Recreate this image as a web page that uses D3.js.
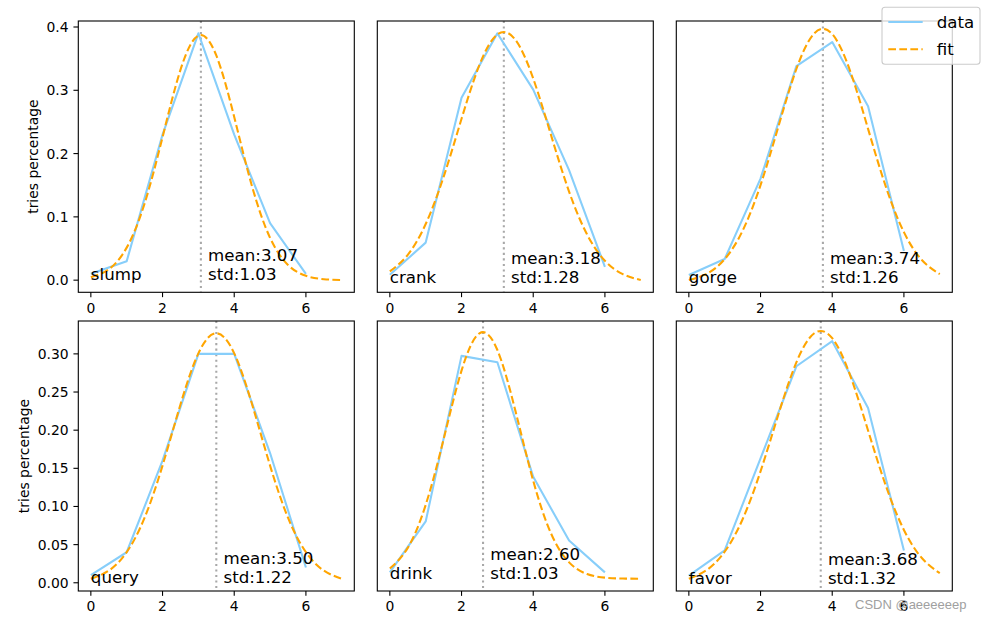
<!DOCTYPE html>
<html><head><meta charset="utf-8">
<script src="https://cdn.jsdelivr.net/npm/d3@7"></script>
<style>body{margin:0;background:#fff} svg{display:block}</style>
</head><body><svg id="c" width="985" height="621"></svg>
<script>
const categories=[0,1,2,3,4,5,6];
const words=["slump","crank","gorge","query","drink","favor"];
const means=[3.07,3.18,3.74,3.50,2.60,3.68];
const stds=[1.03,1.28,1.26,1.22,1.03,1.32];
const slumpData=[0.01,0.03,0.23,0.39,0.23,0.09,0.01];
const crankData=[0.01,0.05,0.23,0.31,0.24,0.14,0.02];
const gorgeData=[0.01,0.03,0.13,0.27,0.30,0.22,0.04];
const queryData=[0.01,0.04,0.16,0.30,0.30,0.17,0.02];
const drinkData=[0.01,0.09,0.35,0.34,0.16,0.06,0.01];
const favorData=[0.01,0.04,0.15,0.26,0.29,0.21,0.04];
const fitX=[0,0.5,1,1.5,2,2.5,3,3.5,4,4.5,5,5.5,6,6.5,7];
const slumpFit=[0.0046,0.0172,0.0514,0.1212,0.2258,0.3323,0.3864,0.3550,0.2577,0.1477,0.0669,0.0240,0.0068,0.0015,0.0003];
const crankFit=[0.0142,0.0348,0.0731,0.1317,0.2038,0.2707,0.3086,0.3021,0.2539,0.1831,0.1134,0.0603,0.0275,0.0108,0.0036];
const gorgeFit=[0.0039,0.0116,0.0298,0.0652,0.1220,0.1951,0.2665,0.3109,0.3100,0.2640,0.1920,0.1194,0.0634,0.0287,0.0111];
const queryFit=[0.0053,0.0159,0.0401,0.0853,0.1536,0.2337,0.3007,0.3270,0.3007,0.2337,0.1536,0.0853,0.0401,0.0159,0.0053];
const drinkFit=[0.0160,0.0485,0.1159,0.2190,0.3269,0.3855,0.3592,0.2644,0.1538,0.0707,0.0257,0.0074,0.0017,0.0003,0.0000];
const favorFit=[0.0062,0.0166,0.0385,0.0773,0.1345,0.2027,0.2647,0.2994,0.2935,0.2492,0.1833,0.1168,0.0645,0.0309,0.0128];
const xTicks=[0,2,4,6];
const yTicksTop=[0,0.1,0.2,0.3,0.4];
const yTicksBottom=[0,0.05,0.10,0.15,0.20,0.25,0.30];
const yLabel="tries percentage";
const legendLabels=["data","fit"];
const watermark="CSDN @aeeeeeep";

const dataSeries=[slumpData,crankData,gorgeData,queryData,drinkData,favorData];
const fitSeries=[slumpFit,crankFit,gorgeFit,queryFit,drinkFit,favorFit];

const svg=d3.select("#c");
const FONT="DejaVu Sans, sans-serif";
const lefts=[78.3,377.3,676.3], tops=[21,321], W=276, Hs=[271.3,270];
const dataColor="#87CEFA", fitColor="#FFA500";
const TL=4.86, LW=2.08, SW=1.1, DASH="7.7,3.33", DOT="2.08,3.44";

function pad(ext){const r=ext[1]-ext[0];return [ext[0]-0.05*r, ext[1]+0.05*r];}

for(let i=0;i<6;i++){
  const row=Math.floor(i/3), col=i%3;
  const L=lefts[col], T=tops[row], H=Hs[row];
  const x=d3.scaleLinear().domain(pad(d3.extent(fitX.concat(categories)))).range([L,L+W]);
  const yExt=d3.extent(dataSeries[i].concat(fitSeries[i]));
  const y=d3.scaleLinear().domain(pad(yExt)).range([T+H,T]);
  const g=svg.append("g");

  g.append("line").attr("x1",x(means[i])).attr("x2",x(means[i])).attr("y1",T).attr("y2",T+H)
    .attr("stroke","#a8a8a8").attr("stroke-width",LW).attr("stroke-dasharray",DOT);

  g.append("path").datum(categories.map((c,k)=>[c,dataSeries[i][k]]))
    .attr("d",d3.line().x(d=>x(d[0])).y(d=>y(d[1])))
    .attr("fill","none").attr("stroke",dataColor).attr("stroke-width",LW).attr("stroke-linejoin","round");
  g.append("path").datum(fitX.map((c,k)=>[c,fitSeries[i][k]]))
    .attr("d",d3.line().curve(d3.curveNatural).x(d=>x(d[0])).y(d=>y(d[1])))
    .attr("fill","none").attr("stroke",fitColor).attr("stroke-width",LW).attr("stroke-dasharray",DASH);

  g.append("text").attr("x",x(0)).attr("y",y(0)).text(words[i])
    .attr("font-family",FONT).attr("font-size","16.67px").attr("fill","#000");
  const t=g.append("text").attr("font-family",FONT).attr("font-size","16.67px").attr("fill","#000");
  t.append("tspan").attr("x",x(means[i]+0.2)).attr("y",y(0)-19.2).text("mean:"+means[i].toFixed(2));
  t.append("tspan").attr("x",x(means[i]+0.2)).attr("y",y(0)).text("std:"+stds[i].toFixed(2));

  g.append("rect").attr("x",L).attr("y",T).attr("width",W).attr("height",H)
    .attr("fill","none").attr("stroke","#000").attr("stroke-width",SW);

  xTicks.forEach(v=>{
    g.append("line").attr("x1",x(v)).attr("x2",x(v)).attr("y1",T+H).attr("y2",T+H+TL).attr("stroke","#000").attr("stroke-width",SW);
    g.append("text").attr("x",x(v)).attr("y",T+H+TL+4.86).attr("dy","0.76em").attr("text-anchor","middle")
      .attr("font-family",FONT).attr("font-size","13.9px").text(d3.format("d")(v));
  });
  if(col===0){
    const ticks=row===0?yTicksTop:yTicksBottom;
    const fmt=d3.format(row===0?".1f":".2f");
    let maxW=0;
    ticks.forEach(v=>{
      g.append("line").attr("x1",L-TL).attr("x2",L).attr("y1",y(v)).attr("y2",y(v)).attr("stroke","#000").attr("stroke-width",SW);
      const tt=g.append("text").attr("x",L-TL-4.86).attr("y",y(v)).attr("dy","0.36em").attr("text-anchor","end")
        .attr("font-family",FONT).attr("font-size","13.9px").text(fmt(v));
      maxW=Math.max(maxW,tt.node().getComputedTextLength());
    });
    const cx=L-TL-4.86-maxW-5.56-8.3;
    g.append("text").attr("transform",`translate(${cx},${T+H/2}) rotate(-90)`).attr("text-anchor","middle")
      .attr("dy","0.36em").attr("font-family",FONT).attr("font-size","13.9px").text(yLabel);
  }
}

const lg=svg.append("g");
lg.append("rect").attr("x",882).attr("y",7.3).attr("width",98).attr("height",57).attr("rx",3)
  .attr("fill","#fff").attr("fill-opacity",0.8).attr("stroke","#cccccc").attr("stroke-width",1.1);
const lgColors=[dataColor,fitColor], lgDash=[null,DASH], lgY=[22,49.3];
legendLabels.forEach((lab,k)=>{
  lg.append("line").attr("x1",888.3).attr("x2",922.7).attr("y1",lgY[k]).attr("y2",lgY[k])
    .attr("stroke",lgColors[k]).attr("stroke-width",LW).attr("stroke-dasharray",lgDash[k]);
  lg.append("text").attr("x",936.7).attr("y",lgY[k]).attr("dy","0.36em")
    .attr("font-family",FONT).attr("font-size","16.67px").text(lab);
});

svg.append("text").attr("x",855).attr("y",609).attr("font-family","Liberation Sans, Arial, sans-serif")
  .attr("font-size","13px").attr("fill","#a0a0a0").text(watermark);
</script></body></html>
